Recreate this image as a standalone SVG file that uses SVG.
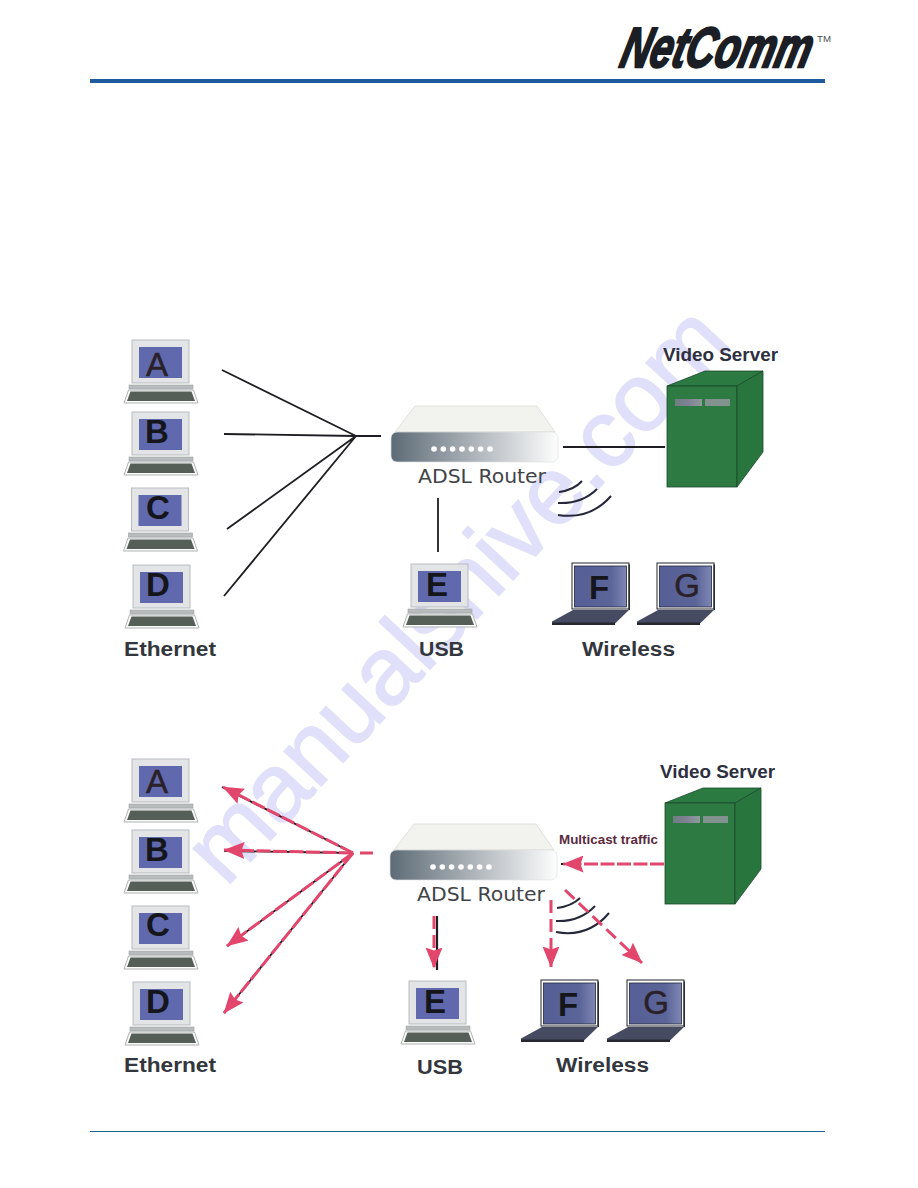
<svg xmlns="http://www.w3.org/2000/svg" width="918" height="1188" viewBox="0 0 918 1188">
<style>
text{font-family:"Liberation Sans",Arial,sans-serif}
.lb{font-weight:700;font-size:20px;fill:#33373d}
.vs{font-weight:700;font-size:18.5px;fill:#2e3040}
.ad{font-family:"DejaVu Sans",sans-serif;font-size:20px;fill:#3f4448}
.k{font-size:33px;font-weight:700;fill:#15151c;text-anchor:middle}
.kl{font-size:33px;fill:#2a2028;stroke:#2a2028;stroke-width:.5;text-anchor:middle}
.wire{fill:none;stroke:#1d1d22;stroke-width:1.800}
.red{fill:none;stroke:#e2466c;stroke-width:3;stroke-dasharray:14 2.500}
.red2{fill:none;stroke:#e2466c;stroke-width:3;stroke-dasharray:13 6}
.wave{fill:none;stroke:#26283a;stroke-width:2}
.wm{font-size:96px;fill:#e0e0fa;stroke:#e0e0fa;stroke-width:1.500}
</style>
<defs>
<linearGradient id="rg" x1="0" x2="1" y1="0" y2="0"><stop offset="0" stop-color="#5d6b76"/><stop offset=".45" stop-color="#a6adb3"/><stop offset="1" stop-color="#fdfdfd"/></linearGradient>
<linearGradient id="sl" x1="0" x2="1" y1="0" y2="0"><stop offset="0" stop-color="#6f7f80"/><stop offset=".5" stop-color="#7f8194"/><stop offset="1" stop-color="#8f9b9a"/></linearGradient>
<linearGradient id="wl" x1="0" x2="1" y1="0" y2="0"><stop offset="0" stop-color="#565f96"/><stop offset=".7" stop-color="#5c6598"/><stop offset="1" stop-color="#7d86b4"/></linearGradient>
<marker id="ah" viewBox="0 0 21 17" refX="20.500" refY="8.500" markerWidth="21" markerHeight="17" markerUnits="userSpaceOnUse" orient="auto"><path d="M0 0L21 8.500L0 17L3 8.500Z" fill="#e2466c"/></marker>
<g id="pc">
<rect x="0" y="0" width="57" height="43" fill="#e2e4e6" stroke="#b9bcbf"/>
<rect x="7" y="7" width="43" height="31" fill="#6069ad"/>
<rect x="-3" y="45" width="64" height="4" fill="#b8bcbc" stroke="#9ea2a2" stroke-width=".6"/>
<path d="M-3.500 50H61.500L66 63H-8Z" fill="#fafafa" stroke="#b0b4b4"/>
<path d="M-1.500 51.500H59.500L63 61H-5Z" fill="#565e58"/>
</g>
<g id="nb">
<rect x="0" y="0" width="57" height="46" fill="#fff" stroke="#22242c" stroke-width="1"/>
<rect x="2.500" y="3" width="52" height="41" fill="url(#wl)" stroke="#22263c" stroke-width=".8"/>
<path d="M56.500 1.500H58V47H56.500Z" fill="#2a2c38"/>
<path d="M1 47H57L42 61.500L-20 61.500V58.500Z" fill="#474b62"/>
<path d="M-20 59.500H43V62H-20Z" fill="#26282e"/>
</g>
<g id="rt">
<path d="M395 432L415 406H537L555 432Z" fill="#f2f2ee" stroke="#d6d6d2" stroke-width=".7"/>
<rect x="391" y="432" width="167" height="30" rx="6" fill="url(#rg)" stroke="#dfe1e2" stroke-width=".7"/>
<g fill="#fff"><circle cx="434" cy="449" r="2.800"/><circle cx="443.300" cy="449" r="2.800"/><circle cx="452.600" cy="449" r="2.800"/><circle cx="462" cy="449" r="2.800"/><circle cx="471.300" cy="449" r="2.800"/><circle cx="480.600" cy="449" r="2.800"/><circle cx="490" cy="449" r="2.800"/></g>
<text class="ad" x="418" y="483" textLength="128" lengthAdjust="spacingAndGlyphs">ADSL Router</text>
</g>
<g id="sv">
<path d="M667 386L705 371H763L737 386Z" fill="#2a7a41" stroke="#1b4a2b" stroke-width=".8"/>
<rect x="667" y="386" width="70" height="101" fill="#2d7a42" stroke="#1b4a2b" stroke-width=".8"/>
<path d="M737 386L763 371V452L737 487Z" fill="#28763e" stroke="#1b4a2b" stroke-width=".8"/>
<rect x="675" y="399" width="27" height="7" fill="url(#sl)"/>
<rect x="705" y="399" width="25" height="7" fill="#82938f"/>
</g>
</defs>
<rect width="918" height="1188" fill="#fff"/>
<text class="wm" transform="translate(226 888) rotate(-47)" textLength="744">manualshive.com</text>
<g id="header">
<text x="0" y="0" transform="translate(618 67) skewX(-14) scale(1 1.45)" font-size="39" font-weight="700" font-style="italic" fill="#1b1e24" stroke="#1b1e24" stroke-width="1.600" textLength="190" lengthAdjust="spacingAndGlyphs">NetComm</text>
<text x="817" y="42" font-size="9.500" fill="#4a4e54" textLength="14" lengthAdjust="spacingAndGlyphs">TM</text>
<rect x="90" y="79" width="735" height="4" fill="#1e5a9c"/>
</g>
<g id="top-diagram">
<g id="connectors-top">
<path class="wire" d="M222 370L356 436M224 434L356 436M227 529L356 436M224 596L356 436M356 436H381"/>
<path class="wire" style="stroke-width:2.200" d="M563 447H665"/>
<path class="wire" d="M438 498V552"/>
<path class="wave" d="M559 492Q574 490 582 481M558 503Q582 504 597 489M558 515Q590 520 611 496"/>
</g>
<g id="t-a"><use href="#pc" x="132" y="340"/><text class="kl" x="157" y="376">A</text></g>
<g id="t-b"><use href="#pc" x="132" y="412"/><text class="k" x="157" y="443">B</text></g>
<g id="t-c"><use href="#pc" x="131.500" y="488"/><text class="k" x="158" y="519">C</text></g>
<g id="t-d"><use href="#pc" x="133" y="565"/><text class="k" x="158" y="596">D</text></g>
<g id="t-e"><use href="#pc" x="411" y="564"/><text class="k" x="437" y="596">E</text></g>
<g id="t-f"><use href="#nb" x="572" y="563"/><text class="k" x="599" y="599">F</text></g>
<g id="t-g"><use href="#nb" x="657" y="563"/><text class="kl" x="687" y="597">G</text></g>
<g id="t-router"><use href="#rt"/></g>
<g id="t-server"><use href="#sv"/><text class="vs" x="663" y="361" textLength="115" lengthAdjust="spacingAndGlyphs">Video Server</text></g>
<text class="lb" x="124" y="656" textLength="92" lengthAdjust="spacingAndGlyphs">Ethernet</text>
<text class="lb" x="419" y="656" textLength="45" lengthAdjust="spacingAndGlyphs">USB</text>
<text class="lb" x="582" y="656" textLength="93" lengthAdjust="spacingAndGlyphs">Wireless</text>
</g>
<g id="bottom-diagram">
<g id="connectors-bottom">
<path class="wire" d="M222 787L353 853M224 851L353 853M227 946L353 853M224 1013L353 853"/>
<path class="wire" stroke-dasharray="2 13" d="M561 864H664"/>
<path class="wire" style="stroke-width:2.200" d="M437 916V970"/>
<path class="wave" d="M557 908Q572 906 580 898M556 921Q580 922 595 906M556 932Q588 938 609 913"/>
<path class="red" marker-end="url(#ah)" d="M353 853L223 787"/>
<path class="red" marker-end="url(#ah)" d="M353 853L224 850"/>
<path class="red" marker-end="url(#ah)" d="M353 853L227 946"/>
<path class="red" marker-end="url(#ah)" d="M353 853L224 1013"/>
<path class="red2" d="M360 853H375"/>
<path class="red" marker-end="url(#ah)" d="M664 864H563"/>
<path class="red2" marker-end="url(#ah)" d="M434 916V968"/>
<path class="red2" marker-end="url(#ah)" d="M551 900V967"/>
<path class="red2" marker-end="url(#ah)" d="M565 890L642 963"/>
</g>
<g id="b-a"><use href="#pc" x="132" y="759"/><text class="kl" x="157" y="793">A</text></g>
<g id="b-b"><use href="#pc" x="132" y="830"/><text class="k" x="157" y="861">B</text></g>
<g id="b-c"><use href="#pc" x="132" y="906"/><text class="k" x="158" y="936">C</text></g>
<g id="b-d"><use href="#pc" x="133" y="982"/><text class="k" x="158" y="1013">D</text></g>
<g id="b-e"><use href="#pc" x="409" y="981"/><text class="k" x="435" y="1013">E</text></g>
<g id="b-f"><use href="#nb" x="541" y="980"/><text class="k" x="568" y="1016">F</text></g>
<g id="b-g"><use href="#nb" x="627" y="980"/><text class="kl" x="656" y="1014">G</text></g>
<g id="b-router"><use href="#rt" x="-1" y="418"/></g>
<g id="b-server"><use href="#sv" x="-2" y="417"/><text class="vs" x="660" y="778" textLength="115" lengthAdjust="spacingAndGlyphs">Video Server</text></g>
<text x="559" y="844" font-size="12.500" font-weight="700" fill="#5c2a3c" textLength="99" lengthAdjust="spacingAndGlyphs">Multicast traffic</text>
<text class="lb" x="124" y="1072" textLength="92" lengthAdjust="spacingAndGlyphs">Ethernet</text>
<text class="lb" x="417" y="1074" textLength="46" lengthAdjust="spacingAndGlyphs">USB</text>
<text class="lb" x="556" y="1072" textLength="93" lengthAdjust="spacingAndGlyphs">Wireless</text>
</g>
<rect id="footer" x="90" y="1131" width="735" height="1" fill="#20618f"/>
</svg>
